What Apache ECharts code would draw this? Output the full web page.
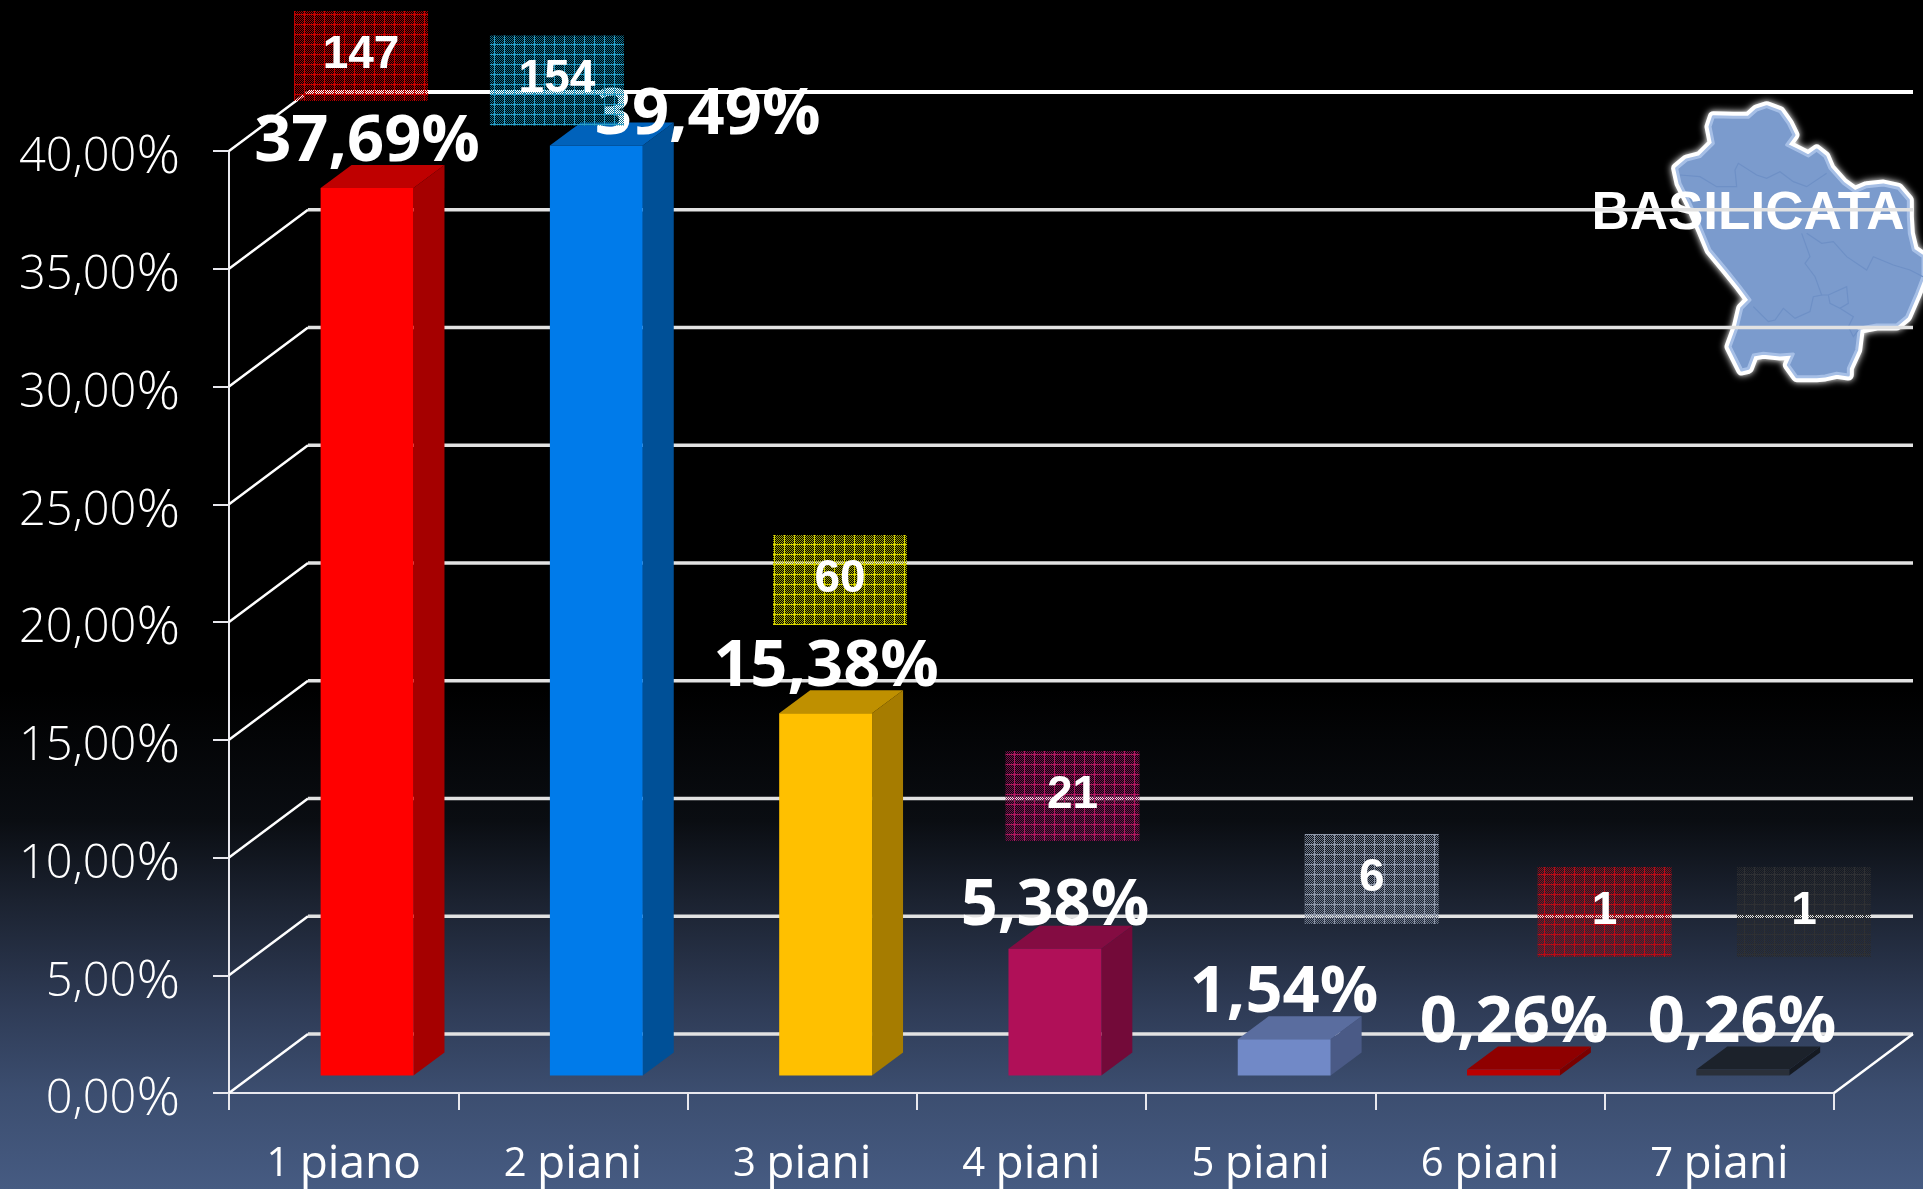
<!DOCTYPE html>
<html><head><meta charset="utf-8">
<style>html,body{margin:0;padding:0;background:#000;overflow:hidden}#c{width:1923px;height:1189px}</style>
<script src="https://cdn.jsdelivr.net/npm/echarts@6/dist/echarts.min.js"></script>
</head><body><div id="c"></div>
<script>
const categories = ['1 piano','2 piani','3 piani','4 piani','5 piani','6 piani','7 piani'];
const percentages = [37.69,39.49,15.38,5.38,1.54,0.26,0.26];
const counts = [147,154,60,21,6,1,1];
const yTicks = [0,5,10,15,20,25,30,35,40];
const regionName = 'BASILICATA';

const barFront = ['#ff0000','#007bea','#ffc000','#b01058','#7189c7','#bb0000','#2a303a'];
const barSide  = ['#a50000','#005097','#a67c00','#730a39','#4a5a86','#7a0000','#151a22'];
const barTop   = ['#bf0000','#0062bb','#bf9000','#840c42','#5a6d9f','#8f0000','#1c222b'];
const boxBase  = ['#a00000','#0c7090','#a0a000','#7a0c48','#707a8c','#900c16','#28292c'];
const boxLine  = ['#c80000','#2aa0c8','#d8d800','#b01860','#8f98aa','#b80c18','#2e3034'];
const boxDX = [17.4,-16,37.8,41,111,114.5,84.6];
const boxDY = [-149.4,-82.5,-150.8,-170.3,-177.7,-174.9,-174.9];
const labelDX = [23.4,134.7,23.8,23.5,23.2,24,22.6];
const labelDY = [-63,-48,-63,-60,-63,-63,-63];

const DEPTH_X = 79, DEPTH_Y = 59;           // projection of the chart's floor
const BAR_X = 23.4, BAR_Y = 17.5;           // bar front inset into the floor
const BAR_DX = 31, BAR_DY = 23;             // bar depth
const pct = v => v.toFixed(2).replace('.',',') + '%';

function makePattern(base, line){
  const cv = document.createElement('canvas'); cv.width = 10; cv.height = 10;
  const g = cv.getContext('2d');
  g.fillStyle = base;
  for (let y=0;y<10;y++) for (let x=0;x<10;x++) if ((x+y)%2===0) g.fillRect(x,y,1,1);
  g.fillStyle = line;
  g.fillRect(4,0,1,10); g.fillRect(0,4,10,1);
  return {image: cv, repeat: 'repeat'};
}
const Z = (x,y)=>[1500+x/3, 60+y/3];
const mapOutline = [[640,170],[700,172],[745,172],[770,150],[800,140],[840,155],[865,190],[882,225],[860,255],[900,275],[925,288],[950,270],[975,290],[990,325],[1030,370],[1065,395],[1100,380],[1150,375],[1195,385],[1225,420],[1225,470],[1228,520],[1240,570],[1269,590],[1269,650],[1250,700],[1220,770],[1190,795],[1130,795],[1078,805],[1070,870],[1045,925],[1045,945],[1010,940],[975,948],[950,950],[890,950],[865,915],[880,882],[840,885],[790,880],[760,885],[745,925],[725,930],[690,860],[712,800],[725,745],[750,720],[720,680],[680,630],[630,570],[605,510],[570,430],[540,370],[530,325],[560,300],[600,290],[640,250],[630,200]].map(p=>Z(p[0],p[1]));
const mapInner = [
 [[540,345],[600,350],[650,380],[710,380],[705,330],[715,310],[770,345],[800,355],[840,335],[880,365],[920,380],[980,340]],
 [[905,520],[930,590],[915,610],[945,650],[965,705],[940,710],[930,755],[885,775],[850,745],[825,780],[805,785],[760,740]],
 [[965,705],[985,705],[1040,680],[1045,730],[1020,745],[990,730],[985,705]],
 [[1020,745],[1060,770],[1045,800],[1060,830],[1075,810]],
 [[920,520],[965,550],[1000,545],[1040,590],[1100,630],[1120,590],[1180,615],[1230,630],[1269,650]]
].map(l=>l.map(p=>Z(p[0],p[1])));

const chart = echarts.init(document.getElementById('c'), null, {renderer:'canvas', width:1923, height:1189});
const textFont = '"Open Sans", sans-serif';

chart.setOption({
  animation:false,
  backgroundColor:{type:'linear',x:0,y:0,x2:0,y2:1,colorStops:[
    {offset:0,color:'#000000'},{offset:.58,color:'#000000'},{offset:.69,color:'#0a0d12'},
    {offset:.757,color:'#1b2230'},{offset:.85,color:'#2f3c57'},{offset:.92,color:'#3c4e70'},{offset:1,color:'#465b82'}]},
  grid:{left:229,top:151,width:1605,height:942,outerBoundsMode:'none'},
  xAxis:{type:'category',data:categories,
    axisLine:{show:true,lineStyle:{color:'#e8e8ee',width:2}},
    axisTick:{show:true,interval:0,length:17,lineStyle:{color:'#e8e8ee',width:2}},
    axisLabel:{interval:0,color:'#fff',margin:46,fontFamily:textFont,fontSize:46,lineHeight:52,
      formatter:v=>{const a=v.split(' ');return '{d|'+a[0]+' }{t|'+a[1]+'}';},
      rich:{d:{fontSize:40,fontFamily:textFont,color:'#fff'},t:{fontSize:46,fontFamily:textFont,color:'#fff'}}}},
  yAxis:{type:'value',min:0,max:40,interval:5,
    axisLine:{show:true,lineStyle:{color:'#e8e8ee',width:2}},
    axisTick:{show:true,length:16,lineStyle:{color:'#e8e8ee',width:2}},
    splitLine:{show:false},
    axisLabel:{color:'#fff',margin:49,fontFamily:textFont,padding:[14,0,0,0],
      formatter:v=>'{d|'+v.toFixed(2).replace('.',',')+'}{p|%}',
      rich:{d:{fontSize:47,fontFamily:textFont,fontWeight:300,color:'#fff'},p:{fontSize:54,fontFamily:textFont,fontWeight:300,color:'#fff'}}}},
  graphic:[
    {type:'polygon',z:0,shape:{points:mapOutline},style:{fill:'#7b9bcd',stroke:'#ffffff',lineWidth:11,lineJoin:'round',shadowBlur:7,shadowColor:'#ffffff'}},
    {type:'polygon',z:0,shape:{points:mapOutline},style:{fill:'#7b9bcd',stroke:'#a6bfe6',lineWidth:3,lineJoin:'round'}},
    ...mapInner.map(l=>({type:'polyline',z:0,shape:{points:l},style:{fill:null,stroke:'#6e90c6',lineWidth:1.2}})),
    {type:'text',z:0,x:1748,y:214,style:{text:regionName,fill:'#fff',font:'bold 53px "Liberation Sans", Arial, sans-serif',align:'center',verticalAlign:'middle'}}
  ],
  series:[
    { // floor and back wall
      type:'custom',z:1,silent:true,
      data:yTicks.map(v=>[0,v]),
      encode:{x:0,y:1},
      renderItem:(p,api)=>{
        const v=api.value(1), y=api.coord([0,v])[1], cs=p.coordSys, x0=cs.x, x1=cs.x+cs.width;
        const top=v===40;
        const kids=[
          {type:'polyline',shape:{points:[[x0,y],[x0+DEPTH_X,y-DEPTH_Y]]},style:{fill:null,stroke:'#fff',lineWidth:2.5}},
          {type:'polyline',shape:{points:[[x0+DEPTH_X,y-DEPTH_Y],[x1+DEPTH_X,y-DEPTH_Y]]},style:{fill:null,stroke:top?'#fff':'#e2e2e2',lineWidth:top?4:3.5}}
        ];
        if(v===0) kids.push({type:'polyline',shape:{points:[[x1,y],[x1+DEPTH_X,y-DEPTH_Y]]},style:{fill:null,stroke:'#fff',lineWidth:2.5}});
        return {type:'group',children:kids};
      }
    },
    { // 3D bars
      type:'custom',z:3,silent:true,
      data:percentages.map((v,i)=>[i,v]),
      encode:{x:0,y:1},
      renderItem:(p,api)=>{
        const i=api.value(0), t=api.coord([i,api.value(1)]), b=api.coord([i,0]);
        const w=api.size([1,0])[0]*0.405;
        const xl=t[0]+BAR_X-w/2, xr=xl+w, yt=t[1]-BAR_Y, yb=b[1]-BAR_Y;
        return {type:'group',children:[
          {type:'polygon',shape:{points:[[xr,yt],[xr+BAR_DX,yt-BAR_DY],[xr+BAR_DX,yb-BAR_DY],[xr,yb]]},style:{fill:barSide[i]}},
          {type:'polygon',shape:{points:[[xl,yt],[xl+BAR_DX,yt-BAR_DY],[xr+BAR_DX,yt-BAR_DY],[xr,yt]]},style:{fill:barTop[i]}},
          {type:'rect',shape:{x:xl,y:yt,width:w,height:yb-yt},style:{fill:barFront[i]}}
        ]};
      }
    },
    { // percentage labels
      type:'custom',z:4,silent:true,
      data:percentages.map((v,i)=>[i,v]),
      encode:{x:0,y:1},
      renderItem:(p,api)=>{
        const i=api.value(0), v=api.value(1), t=api.coord([i,v]);
        return {type:'text',style:{text:pct(v),x:t[0]+labelDX[i],y:t[1]+labelDY[i],fill:'#fff',
          font:'bold 65px "Open Sans", sans-serif',align:'center',verticalAlign:'middle'}};
      }
    },
    { // count callouts
      type:'custom',z:5,silent:true,
      data:counts.map((c,i)=>[i,percentages[i],c]),
      encode:{x:0,y:1},
      renderItem:(p,api)=>{
        const i=api.value(0), t=api.coord([i,api.value(1)]);
        const cx=t[0]+boxDX[i], cy=t[1]+boxDY[i], w=134, h=90;
        return {type:'group',children:[
          {type:'rect',shape:{x:cx-w/2,y:cy-h/2,width:w,height:h},style:{fill:makePattern(boxBase[i],boxLine[i])}},
          {type:'text',style:{text:String(api.value(2)),x:cx,y:cy-1,fill:'#fff',
            font:'bold 46px "Liberation Sans", Arial, sans-serif',align:'center',verticalAlign:'middle'}}
        ]};
      }
    }
  ]
});
</script></body></html>
